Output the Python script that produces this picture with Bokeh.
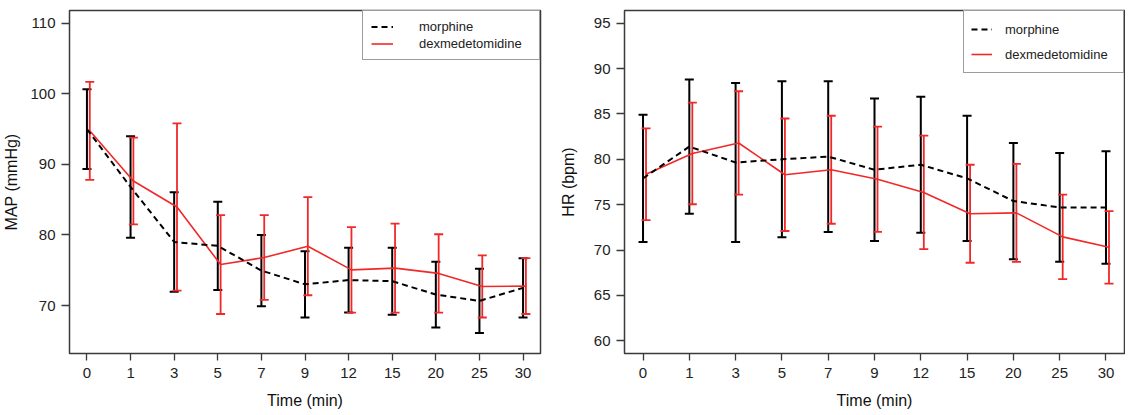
from bokeh.plotting import figure
from bokeh.models import (ColumnDataSource, Whisker, TeeHead, FixedTicker, Legend,
                          LegendItem, Range1d)
from bokeh.layouts import row
from bokeh.embed import file_html
from bokeh.resources import INLINE

time_labels = ["0", "1", "3", "5", "7", "9", "12", "15", "20", "25", "30"]

map_morphine_mean = [95.0, 86.8, 79.0, 78.45, 74.95, 73.0, 73.6, 73.45, 71.55, 70.65, 72.5]
map_morphine_sd = [5.65, 7.2, 7.05, 6.25, 5.05, 4.7, 4.6, 4.75, 4.65, 4.55, 4.2]
map_dex_mean = [94.75, 87.65, 83.95, 75.8, 76.8, 78.4, 75.05, 75.3, 74.55, 72.7, 72.75]
map_dex_sd = [6.95, 6.15, 11.85, 7.0, 6.0, 6.95, 6.05, 6.3, 5.55, 4.4, 3.95]

hr_morphine_mean = [77.9, 81.4, 79.65, 80.0, 80.3, 78.85, 79.4, 77.9, 75.4, 74.7, 74.7]
hr_morphine_sd = [7.0, 7.4, 8.75, 8.6, 8.3, 7.85, 7.5, 6.9, 6.4, 6.0, 6.2]
hr_dex_mean = [78.35, 80.65, 81.8, 78.3, 78.85, 77.8, 76.35, 74.0, 74.1, 71.45, 70.3]
hr_dex_sd = [5.05, 5.6, 5.7, 6.2, 5.95, 5.8, 6.25, 5.4, 5.4, 4.65, 4.0]

map_ylim = (65, 110)
map_yticks = [70, 80, 90, 100, 110]
hr_ylim = (60, 95)
hr_yticks = [60, 65, 70, 75, 80, 85, 90, 95]

FONT = "Liberation Sans"
RED = "#f02828"
BOX = "#3a3a3a"
TXT = "#222222"
RED_OFFSET = 0.065
BOTTOM = 54


def make_panel(ylabel, ylim, yticks, m_mean, m_sd, d_mean, d_sd, geo, leg):
    idx = list(range(len(time_labels)))
    pad = 0.04 * (ylim[1] - ylim[0])
    p = figure(output_backend="svg", toolbar_location=None, title=None,
               x_range=Range1d(-0.4, len(idx) - 1 + 0.4),
               y_range=Range1d(ylim[0] - pad, ylim[1] + pad),
               frame_width=geo["fw"], frame_height=geo["fh"],
               min_border_left=geo["left"], min_border_right=geo["right"],
               min_border_top=geo["top"], min_border_bottom=BOTTOM)
    p.background_fill_color = "white"
    p.border_fill_color = "white"
    p.outline_line_color = BOX
    p.outline_line_width = 1.5
    p.xgrid.visible = False
    p.ygrid.visible = False

    src_m = ColumnDataSource(dict(
        x=idx, mean=m_mean,
        lower=[a - b for a, b in zip(m_mean, m_sd)],
        upper=[a + b for a, b in zip(m_mean, m_sd)]))
    src_d = ColumnDataSource(dict(
        x=[i + RED_OFFSET for i in idx], mean=d_mean,
        lower=[a - b for a, b in zip(d_mean, d_sd)],
        upper=[a + b for a, b in zip(d_mean, d_sd)]))

    for src, col, lw in ((src_m, "black", 2), (src_d, RED, 1.8)):
        w = Whisker(source=src, base="x", upper="upper", lower="lower",
                    line_color=col, line_width=lw,
                    upper_head=TeeHead(size=9, line_color=col, line_width=lw),
                    lower_head=TeeHead(size=9, line_color=col, line_width=lw))
        p.add_layout(w)

    r_d = p.line("x", "mean", source=src_d, line_color=RED, line_width=1.6)
    r_m = p.line("x", "mean", source=src_m, line_color="black", line_width=2,
                 line_dash="6 4")

    legend = Legend(items=[LegendItem(label="morphine", renderers=[r_m]),
                           LegendItem(label="dexmedetomidine", renderers=[r_d])],
                    location="top_right", margin=0,
                    padding=leg["padding"], spacing=leg["spacing"],
                    glyph_width=leg["glyph_w"], glyph_height=leg["row_h"],
                    label_height=leg["row_h"], label_width=leg["label_w"],
                    label_standoff=leg["standoff"],
                    label_text_font=FONT, label_text_font_size="13px",
                    label_text_color=TXT,
                    border_line_color=BOX, border_line_width=1.2,
                    background_fill_color="white", background_fill_alpha=1.0)
    p.add_layout(legend)

    p.xaxis.ticker = FixedTicker(ticks=idx)
    p.xaxis.major_label_overrides = {i: lab for i, lab in enumerate(time_labels)}
    p.yaxis.ticker = FixedTicker(ticks=yticks)
    for ax in (p.xaxis, p.yaxis):
        ax.axis_line_color = None
        ax.major_tick_line_color = BOX
        ax.major_tick_line_width = 1.3
        ax.major_tick_in = 0
        ax.minor_tick_line_color = None
        ax.major_label_text_font = FONT
        ax.major_label_text_font_size = "15px"
        ax.major_label_text_color = TXT
        ax.axis_label_text_font = FONT
        ax.axis_label_text_font_size = "16px"
        ax.axis_label_text_font_style = "normal"
        ax.axis_label_text_color = "#111111"
    p.xaxis.major_tick_out = 7
    p.xaxis.major_label_standoff = 7
    p.xaxis.axis_label = "Time (min)"
    p.xaxis.axis_label_standoff = 11
    p.yaxis.major_tick_out = 8
    p.yaxis.major_label_standoff = 6
    p.yaxis.axis_label = ylabel
    p.yaxis.axis_label_standoff = geo["title_standoff"]
    return p


left = make_panel("MAP (mmHg)", map_ylim, map_yticks,
                  map_morphine_mean, map_morphine_sd, map_dex_mean, map_dex_sd,
                  geo=dict(left=63, fw=471, right=16, top=10, fh=343, title_standoff=7),
                  leg=dict(padding=8, spacing=2, row_h=15,
                           glyph_w=22, standoff=26, label_w=112))
right = make_panel("HR (bpm)", hr_ylim, hr_yticks,
                   hr_morphine_mean, hr_morphine_sd, hr_dex_mean, hr_dex_sd,
                   geo=dict(left=62, fw=500, right=1, top=10, fh=343, title_standoff=14),
                   leg=dict(padding=7, spacing=3, row_h=22,
                            glyph_w=21, standoff=13, label_w=111))

layout = row(left, right)
open("out.html", "w").write(file_html(layout, INLINE))
